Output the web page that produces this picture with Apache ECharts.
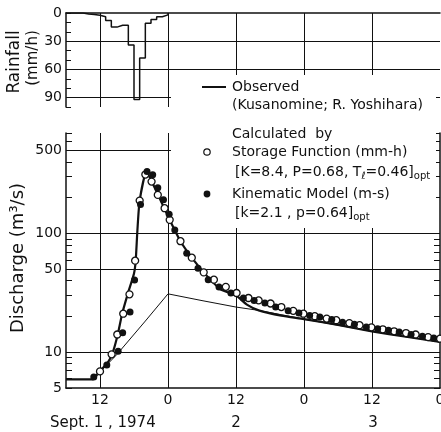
<!DOCTYPE html>
<html>
<head>
<meta charset="utf-8">
<script src="https://cdn.jsdelivr.net/npm/echarts@6/dist/echarts.min.js"></script>
<style>
  html, body { margin: 0; padding: 0; background: #fff; }
  #chart { width: 441px; height: 432px; }
</style>
</head>
<body>
<div id="chart"></div>
<script>
// time axis: hours counted from Sept. 1, 1974 00:00
const rainHours = [6, 7, 8, 9, 10, 11, 12, 13, 14, 15, 16, 17, 18, 19, 20, 21, 22, 23, 24]
const rainValues = [0, 0, 0, 1, 1.5, 2.5, 4, 8, 15, 13, 13, 34, 92, 48, 11, 7, 4, 2, 0]

const obsHours = [6, 10.7, 11.8, 13.3, 14.2, 15.1, 15.9, 16.9, 18.0, 18.3, 18.6, 19.0, 20.2, 21.2, 22.2, 23.3, 24.3, 26.2, 28.2, 30.3, 33.2, 36, 38, 40, 44, 48, 54, 60, 66, 72]
const obsValues = [5.9, 5.9, 6.8, 8.1, 9.8, 13.9, 21, 31, 46, 59, 106, 189, 328, 270, 213, 164, 130, 86, 62.5, 47, 34, 30, 25, 22.5, 20.3, 19.0, 17, 15, 13.5, 12.2]

const thinHours = [10.7, 15, 20, 24, 30, 36, 40, 48, 60, 72]
const thinValues = [5.9, 9.6, 18.3, 31, 27.2, 24, 22.5, 19, 15, 12.2]

const sfHours = [12.0, 14.05, 15.05, 16.1, 17.2, 18.2, 19.0, 20.0, 21.1, 22.2, 23.4, 24.3, 26.2, 28.2, 30.3, 32.1, 34.2, 36.1, 38.2, 40.0, 42.1, 44.0, 46.1, 47.9, 49.9, 52.0, 53.7, 56.0, 57.8, 59.9, 61.9, 63.9, 66.0, 67.7, 69.9, 72.0]
const sfValues = [6.9, 9.6, 14.1, 21.1, 30.7, 59, 189, 313, 273, 211, 163, 130, 86, 62.5, 47, 40.8, 35.5, 31.5, 28.6, 27.3, 25.7, 24, 22.3, 21.1, 20.1, 19.2, 18.6, 17.6, 16.9, 16.2, 15.6, 15.0, 14.5, 14.1, 13.4, 13.0]

const kmHours = [10.9, 13.2, 15.2, 16.0, 17.3, 18.1, 19.15, 20.3, 21.3, 22.2, 23.2, 24.2, 25.2, 27.3, 29.3, 31.1, 33.0, 35.1, 37.3, 39.2, 41.1, 43.0, 45.2, 47.1, 49.0, 50.8, 52.9, 54.8, 56.9, 59.0, 61.0, 62.9, 64.8, 66.9, 68.9, 70.9]
const kmValues = [6.2, 7.8, 10.2, 14.6, 21.8, 40.5, 175, 332, 311, 242, 192, 145, 107, 68, 51, 40.8, 35.4, 31.5, 28.6, 27.3, 26, 24, 22.3, 21.4, 20.4, 19.8, 18.9, 17.9, 17.2, 16.3, 15.8, 15.3, 14.8, 14.1, 13.6, 13.2]

const timeTicks = [12, 24, 36, 48, 60, 72]
const timeGrid = [12, 24, 36, 48, 60]
const rainLabels = [0, 30, 60, 90]
const rainGrid = [30, 60, 90]
const qLabels = [5, 10, 50, 100, 500]
const qGrid = [10, 50, 100, 500]
const qMinorTicks = [5, 6, 7, 8, 9, 10, 20, 30, 40, 50, 60, 70, 80, 90, 100, 200, 300, 400, 500, 600, 700]
const dayLabels = [
  { text: 'Sept. 1 , 1974', x: 50, align: 'left' },
  { text: '2', x: 236, align: 'center' },
  { text: '3', x: 373, align: 'center' }
]

const zip = (xs, ys) => xs.map((x, i) => [x, ys[i]])

const INK = '#111'
const FONT = 'DejaVu Sans'
const chart = echarts.init(document.getElementById('chart'))

const hiddenAxisParts = {
  axisLine: { show: false },
  axisTick: { show: false },
  axisLabel: { show: false }
}
const gridLine = { show: true, lineStyle: { color: INK, width: 1, type: 'solid' } }

chart.setOption({
  animation: false,
  backgroundColor: '#fff',
  textStyle: { fontFamily: FONT, color: INK },
  grid: [
    { left: 66, right: 1, top: 13, height: 94, outerBoundsMode: 'none' },
    { left: 66, right: 1, top: 133, bottom: 44, outerBoundsMode: 'none' }
  ],
  xAxis: [
    {
      type: 'value', gridIndex: 0, min: 6, max: 72, position: 'top',
      axisLine: { show: true, onZero: false, lineStyle: { color: INK, width: 1.5 } },
      axisTick: { show: false, customValues: timeGrid },
      axisLabel: { show: false },
      splitLine: gridLine
    },
    {
      type: 'value', gridIndex: 1, min: 6, max: 72, position: 'bottom',
      axisLine: { show: true, onZero: false, lineStyle: { color: INK, width: 1.5 } },
      axisTick: { show: false, customValues: timeGrid },
      axisLabel: {
        customValues: timeTicks, margin: 5, fontSize: 14, color: INK, fontFamily: FONT,
        alignMaxLabel: 'center', hideOverlap: false,
        formatter: v => String(v % 24)
      },
      splitLine: gridLine
    }
  ],
  yAxis: [
    {
      type: 'value', gridIndex: 0, min: 0, max: 100, interval: 10, inverse: true,
      axisLine: { show: true, lineStyle: { color: INK, width: 1.5 } },
      axisTick: { show: true, inside: true, length: 5, lineStyle: { color: INK } },
      axisLabel: { customValues: rainLabels, margin: 4, fontSize: 14, color: INK, fontFamily: FONT },
      splitLine: { show: false }
    },
    {
      type: 'value', gridIndex: 0, min: 0, max: 100, inverse: true,
      ...hiddenAxisParts,
      axisTick: { show: false, customValues: rainGrid },
      splitLine: gridLine
    },
    {
      type: 'log', gridIndex: 1, min: 5, max: 700, position: 'left',
      axisLine: { show: true, lineStyle: { color: INK, width: 1.5 } },
      axisTick: { show: true, inside: true, length: 6, customValues: qMinorTicks, lineStyle: { color: INK } },
      axisLabel: { customValues: qLabels, margin: 4, fontSize: 14, color: INK, fontFamily: FONT },
      splitLine: { show: false }
    },
    {
      type: 'log', gridIndex: 1, min: 5, max: 700, position: 'left',
      ...hiddenAxisParts,
      axisTick: { show: false, customValues: qGrid },
      splitLine: gridLine
    },
    {
      type: 'log', gridIndex: 1, min: 5, max: 700, position: 'right',
      axisLine: { show: true, lineStyle: { color: INK, width: 1.5 } },
      axisTick: { show: true, inside: true, length: 6, customValues: qMinorTicks, lineStyle: { color: INK } },
      axisLabel: { show: false },
      splitLine: { show: false }
    }
  ],
  graphic: [
    // white panel behind the key, hiding the grid lines there
    { type: 'rect', z: 5, shape: { x: 171, y: 75, width: 265, height: 153 }, style: { fill: '#fff' } },
    { type: 'line', z: 8, shape: { x1: 202, y1: 87, x2: 226, y2: 87 }, style: { stroke: INK, lineWidth: 2 } },
    { type: 'circle', z: 8, shape: { cx: 207, cy: 152, r: 3.2 }, style: { fill: '#fff', stroke: INK, lineWidth: 1.2 } },
    { type: 'circle', z: 8, shape: { cx: 207, cy: 194, r: 3.4 }, style: { fill: INK } },
    ...[
      ['Observed', 232, 87],
      ['(Kusanomine; R. Yoshihara)', 232, 105],
      ['Calculated  by', 232, 134],
      ['Storage Function (mm-h)', 232, 152],
      ['[K=8.4, P=0.68, T{s|ℓ}=0.46]{s|opt}', 235, 172],
      ['Kinematic Model (m-s)', 232, 194],
      ['[k=2.1 , p=0.64]{s|opt}', 235, 213]
    ].map(([text, x, y]) => ({
      type: 'text', z: 8, x, y,
      style: {
        text, fill: INK, font: '14px "DejaVu Sans"', verticalAlign: 'middle', align: 'left',
        lineHeight: 18,
        rich: { s: { fontSize: 10, fontFamily: FONT, fill: INK, verticalAlign: 'bottom', lineHeight: 12 } }
      }
    })),
    // axis titles
    { type: 'text', z: 8, x: 15, y: 62, rotation: Math.PI / 2, style: { text: 'Rainfall', fill: INK, font: '17px "DejaVu Sans"', align: 'center', verticalAlign: 'middle' } },
    { type: 'text', z: 8, x: 33, y: 58, rotation: Math.PI / 2, style: { text: '(mm/h)', fill: INK, font: '15px "DejaVu Sans"', align: 'center', verticalAlign: 'middle' } },
    { type: 'text', z: 8, x: 18, y: 258, rotation: Math.PI / 2, style: { text: 'Discharge (m³/s)', fill: INK, font: '18px "DejaVu Sans"', align: 'center', verticalAlign: 'middle' } },
    ...dayLabels.map(d => ({
      type: 'text', z: 8, x: d.x, y: 423,
      style: { text: d.text, fill: INK, font: '15px "DejaVu Sans"', align: d.align, verticalAlign: 'middle' }
    }))
  ],
  series: [
    {
      name: 'Rainfall', type: 'line', xAxisIndex: 0, yAxisIndex: 0, step: 'end',
      data: zip(rainHours, rainValues), showSymbol: false,
      lineStyle: { color: INK, width: 1.5 }, z: 6
    },
    {
      name: 'Thin', type: 'line', xAxisIndex: 1, yAxisIndex: 2,
      data: zip(thinHours, thinValues), showSymbol: false,
      lineStyle: { color: INK, width: 1 }, z: 6
    },
    {
      name: 'Observed', type: 'line', xAxisIndex: 1, yAxisIndex: 2,
      data: zip(obsHours, obsValues), showSymbol: false, smooth: 0.2,
      lineStyle: { color: INK, width: 2.2 }, z: 6
    },
    {
      name: 'Storage Function', type: 'scatter', xAxisIndex: 1, yAxisIndex: 2,
      data: zip(sfHours, sfValues), symbol: 'circle', symbolSize: 7,
      itemStyle: { color: '#fff', borderColor: INK, borderWidth: 1.3, opacity: 1 }, z: 7
    },
    {
      name: 'Kinematic Model', type: 'scatter', xAxisIndex: 1, yAxisIndex: 2,
      data: zip(kmHours, kmValues), symbol: 'circle', symbolSize: 7,
      itemStyle: { color: INK, opacity: 1 }, z: 7
    }
  ]
})
</script>
</body>
</html>
